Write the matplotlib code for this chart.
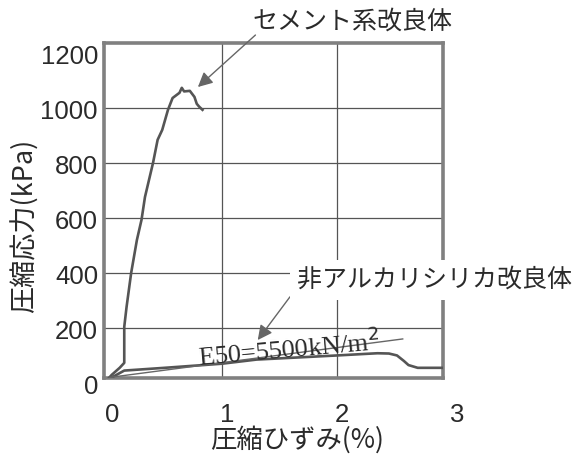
import matplotlib
matplotlib.use("Agg")
import matplotlib.pyplot as plt
from matplotlib.transforms import blended_transform_factory, offset_copy

plt.rcParams['font.family'] = ['Noto Sans CJK JP', 'DejaVu Sans']

# ---- data ----
cement_strain = [0.0, 0.04, 0.11, 0.15, 0.15, 0.17, 0.21, 0.26, 0.30, 0.33, 0.40, 0.44,
                 0.48, 0.53, 0.57, 0.63, 0.65, 0.67, 0.72, 0.76, 0.78, 0.80, 0.83]
cement_stress = [10, 29, 55, 73, 204, 276, 400, 520, 593, 676, 800, 884,
                 920, 993, 1036, 1055, 1073, 1060, 1062, 1040, 1015, 1005, 993]

silica_strain = [0.02, 0.15, 0.5, 1.0, 1.3, 2.0, 2.35, 2.45, 2.52, 2.58, 2.62, 2.7, 2.92]
silica_stress = [15, 45, 55, 70, 85, 100, 108, 107, 100, 80, 65, 55, 55]

e50_strain = [0.02, 2.57]
e50_stress = [20, 160]

xtick_vals = [0, 1, 2, 3]
ytick_vals = [0, 200, 400, 600, 800, 1000, 1200]
xgrid_vals = [1, 2]
ygrid_vals = [200, 400, 600, 800, 1000]

label_cement = "セメント系改良体"
label_silica = "非アルカリシリカ改良体"
label_e50 = r"E50=5500kN/m$^2$"
xlabel = "圧縮ひずみ(%)"
ylabel = "圧縮応力(kPa)"

# ---- figure ----
W, H = 582, 459
fig = plt.figure(figsize=(W / 100, H / 100), dpi=100)
ax = fig.add_axes([104 / W, 81 / H, 339 / W, 335 / H])
ax.set_xlim(-0.026, 2.92)
ax.set_ylim(18, 1236)

ax.set_xticks(xgrid_vals)
ax.set_yticks(ygrid_vals)
ax.tick_params(length=0, labelbottom=False, labelleft=False)
ax.grid(True, color='#555555', lw=0.9)
ax.set_axisbelow(True)
for s in ax.spines.values():
    s.set_color('#808080')
    s.set_linewidth(2.6)

txt_col = '#2a2a2a'
line_col = '#555555'

ax.plot(cement_strain, cement_stress, color=line_col, lw=1.9, solid_joinstyle='round', zorder=3)
ax.plot(silica_strain, silica_stress, color=line_col, lw=1.9, solid_joinstyle='round', zorder=3)
ax.plot(e50_strain, e50_stress, color='#666666', lw=1.0, zorder=3)

# tick labels
ytr = offset_copy(blended_transform_factory(ax.transAxes, ax.transData), fig=fig,
                  x=-6, y=-4, units='dots')
for v in ytick_vals:
    ax.text(0, v, str(v), transform=ytr, ha='right', va='center', fontsize=18.5,
            color=txt_col, family=['Liberation Sans'], clip_on=False)
xtr = offset_copy(blended_transform_factory(ax.transData, ax.transAxes), fig=fig,
                  x=5, y=-37, units='dots')
for v in xtick_vals:
    ax.text(v, 0, str(v), transform=xtr, ha='center', va='center', fontsize=18.5,
            color=txt_col, family=['Liberation Sans'], clip_on=False)

fig.text(297 / W, 1 - 440 / H, xlabel, ha='center', va='center', fontsize=19, color=txt_col)
fig.text(25 / W, 1 - 226 / H, ylabel, ha='center', va='center', rotation=90,
         fontsize=19.5, color=txt_col)

# annotations
arrow = dict(arrowstyle='-|>', color='#666666', lw=1.0, mutation_scale=22,
             shrinkA=0, shrinkB=0)
ax.annotate('', xy=(0.79, 1076), xytext=(1.29, 1265), arrowprops=arrow,
            annotation_clip=False)
ax.text(2.13, 1313, label_cement, ha='center', va='center', fontsize=18,
        color=txt_col, clip_on=False)

ax.annotate('', xy=(1.31, 156), xytext=(1.59, 313), arrowprops=arrow,
            annotation_clip=False)
ax.text(2.85, 375, label_silica, ha='center', va='center', fontsize=18,
        color=txt_col, clip_on=False, zorder=6,
        bbox=dict(facecolor='white', edgecolor='none', pad=5))

ax.text(1.58, 125, label_e50, ha='center', va='center', fontsize=19, rotation=5,
        color=txt_col, family=['Liberation Serif'], zorder=5)

fig.savefig('out.png', dpi=100)
